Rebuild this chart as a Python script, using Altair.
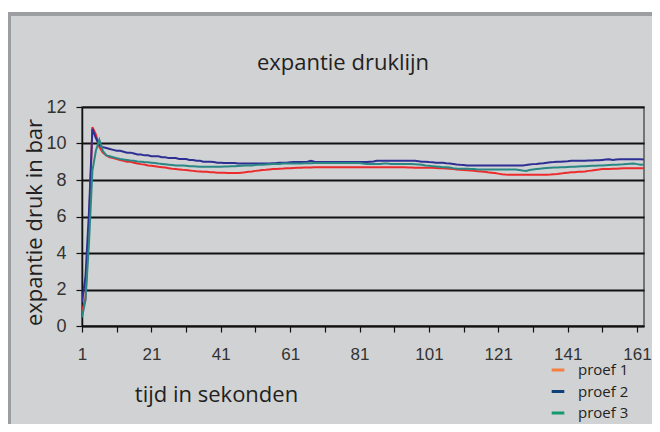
import altair as alt
import pandas as pd

# ---- data ----
series_names = ["proef 1", "proef 2", "proef 3"]
line_colors = ["#ec2b2c", "#2d2f93", "#2a8884"]
legend_colors = ["#f57f3e", "#0f4079", "#159a6b"]

proef1 = [
    0.78, 1.5, 5.5, 10.9, 10.5, 9.8, 9.5, 9.35, 9.25, 9.2,
    9.15, 9.1, 9.05, 9.0, 9.0, 8.95, 8.9, 8.87, 8.85, 8.8,
    8.78, 8.75, 8.72, 8.7, 8.68, 8.65, 8.62, 8.6, 8.58, 8.56,
    8.55, 8.52, 8.5, 8.48, 8.47, 8.45, 8.45, 8.43, 8.42, 8.4,
    8.4, 8.4, 8.38, 8.38, 8.38, 8.38, 8.4, 8.42, 8.45, 8.47,
    8.5, 8.52, 8.55, 8.56, 8.58, 8.6, 8.6, 8.62, 8.63, 8.65,
    8.65, 8.66, 8.67, 8.67, 8.68, 8.68, 8.69, 8.7, 8.7, 8.7,
    8.7, 8.7, 8.7, 8.7, 8.7, 8.7, 8.7, 8.7, 8.7, 8.7,
    8.7, 8.7, 8.7, 8.7, 8.7, 8.7, 8.7, 8.7, 8.7, 8.7,
    8.7, 8.7, 8.7, 8.7, 8.68, 8.68, 8.67, 8.67, 8.67, 8.67,
    8.67, 8.67, 8.66, 8.65, 8.65, 8.63, 8.62, 8.6, 8.58, 8.56,
    8.55, 8.53, 8.52, 8.5, 8.48, 8.47, 8.45, 8.42, 8.4, 8.38,
    8.35, 8.32, 8.3, 8.29, 8.29, 8.29, 8.29, 8.29, 8.29, 8.29,
    8.29, 8.29, 8.29, 8.29, 8.29, 8.3, 8.32, 8.33, 8.35, 8.38,
    8.4, 8.42, 8.43, 8.45, 8.45, 8.47, 8.5, 8.52, 8.55, 8.57,
    8.6, 8.6, 8.6, 8.62, 8.62, 8.63, 8.64, 8.65, 8.65, 8.65,
    8.65, 8.65, 8.65,
]

proef2 = [
    1.3, 2.7, 6.2, 10.8, 10.3, 9.9, 9.8, 9.75, 9.7, 9.65,
    9.6, 9.6, 9.55, 9.5, 9.5, 9.45, 9.4, 9.4, 9.35, 9.35,
    9.3, 9.3, 9.3, 9.25, 9.25, 9.2, 9.2, 9.2, 9.15, 9.15,
    9.15, 9.1, 9.1, 9.05, 9.05, 9.0, 9.0, 9.0, 8.98, 8.95,
    8.95, 8.93, 8.93, 8.93, 8.93, 8.9, 8.9, 8.9, 8.9, 8.9,
    8.9, 8.9, 8.9, 8.9, 8.9, 8.92, 8.93, 8.95, 8.95, 8.95,
    8.97, 8.98, 8.98, 8.98, 8.98, 9.0, 9.05, 9.0, 8.98, 8.98,
    8.98, 8.98, 8.98, 8.98, 8.98, 8.98, 8.98, 8.98, 8.98, 8.98,
    8.98, 8.98, 8.98, 9.0, 9.02, 9.05, 9.05, 9.05, 9.05, 9.05,
    9.05, 9.05, 9.05, 9.05, 9.05, 9.05, 9.05, 9.03, 9.0, 9.0,
    8.98, 8.97, 8.95, 8.95, 8.95, 8.92, 8.9, 8.88, 8.85, 8.83,
    8.82, 8.8, 8.8, 8.8, 8.8, 8.8, 8.8, 8.8, 8.8, 8.8,
    8.8, 8.8, 8.8, 8.8, 8.8, 8.8, 8.8, 8.8, 8.82, 8.85,
    8.87, 8.88, 8.9, 8.92, 8.95, 8.97, 8.98, 9.0, 9.0, 9.02,
    9.03, 9.05, 9.05, 9.05, 9.05, 9.06, 9.07, 9.07, 9.08, 9.08,
    9.1, 9.12, 9.14, 9.1, 9.12, 9.14, 9.14, 9.14, 9.14, 9.14,
    9.14, 9.14, 9.13,
]

proef3 = [
    0.47, 1.4, 4.5, 8.5, 9.6, 10.2, 9.6, 9.35, 9.3, 9.25,
    9.2, 9.15, 9.12, 9.1, 9.07, 9.05, 9.02, 9.0, 8.98, 8.97,
    8.95, 8.93, 8.9, 8.88, 8.86, 8.84, 8.82, 8.8, 8.8, 8.8,
    8.78, 8.76, 8.75, 8.74, 8.73, 8.72, 8.72, 8.72, 8.72, 8.72,
    8.73, 8.74, 8.74, 8.75, 8.76, 8.77, 8.78, 8.8, 8.8, 8.8,
    8.82, 8.83, 8.84, 8.85, 8.86, 8.87, 8.88, 8.88, 8.9, 8.9,
    8.9, 8.9, 8.9, 8.9, 8.92, 8.92, 8.92, 8.93, 8.93, 8.93,
    8.93, 8.93, 8.93, 8.93, 8.93, 8.93, 8.93, 8.93, 8.93, 8.93,
    8.93, 8.9, 8.88, 8.88, 8.87, 8.87, 8.88, 8.9, 8.9, 8.88,
    8.87, 8.87, 8.87, 8.88, 8.88, 8.87, 8.86, 8.85, 8.83, 8.8,
    8.78, 8.76, 8.74, 8.72, 8.7, 8.7, 8.68, 8.65, 8.63, 8.62,
    8.62, 8.61, 8.6, 8.6, 8.58, 8.58, 8.58, 8.58, 8.58, 8.58,
    8.58, 8.58, 8.58, 8.58, 8.58, 8.57, 8.55, 8.52, 8.5, 8.55,
    8.58, 8.6, 8.62, 8.64, 8.66, 8.67, 8.68, 8.69, 8.7, 8.7,
    8.71, 8.72, 8.73, 8.74, 8.75, 8.76, 8.77, 8.78, 8.78, 8.79,
    8.8, 8.81, 8.82, 8.83, 8.84, 8.85, 8.86, 8.88, 8.89, 8.9,
    8.87, 8.83, 8.85,
]

x_tick_values = [1, 11, 21, 31, 41, 51, 61, 71, 81, 91, 101, 111, 121, 131, 141, 151, 161]
y_tick_values = [0, 2, 4, 6, 8, 10, 12]

rows = []
for name, vals in zip(series_names, [proef1, proef2, proef3]):
    for i, v in enumerate(vals):
        rows.append({"t": i + 1, "druk": v, "serie": name})
df = pd.DataFrame(rows)
legend_df = pd.DataFrame({"t": [1, 1, 1], "druk": [0, 0, 0], "legenda": series_names})

W, H = 562, 219
TITLE_FONT = "Open Sans"
TICK_FONT = "Liberation Sans"

x_enc = alt.X(
    "t:Q",
    scale=alt.Scale(domain=[1, 163], nice=False, zero=False),
    axis=alt.Axis(
        values=x_tick_values,
        labelExpr="(datum.value - 1) % 20 == 0 ? datum.label : ''",
        grid=False,
        domainColor="#111111", domainWidth=1.5,
        tickColor="#111111", tickSize=6, tickWidth=1.2,
        labelFont=TICK_FONT, labelFontSize=17, labelColor="#333333",
        labelPadding=14, labelFlush=False, labelOverlap=False,
        title="tijd in sekonden",
        titleFont=TITLE_FONT, titleFontSize=22, titleFontWeight="normal",
        titleColor="#231f20", titleX=134, titleY=58,
    ),
)
y_enc = alt.Y(
    "druk:Q",
    scale=alt.Scale(domain=[0, 12], nice=False),
    axis=alt.Axis(
        values=y_tick_values,
        grid=True, gridColor="#111111", gridWidth=1.8,
        domainColor="#111111", domainWidth=1.5,
        tickColor="#111111", tickSize=6, tickWidth=1.2,
        labelFont=TICK_FONT, labelFontSize=18, labelColor="#333333",
        labelPadding=10, labelOverlap=False,
        title="expantie druk in bar",
        titleFont=TITLE_FONT, titleFontSize=22, titleFontWeight="normal",
        titleColor="#231f20", titleX=-36, titleY=115,
    ),
)

lines = alt.Chart(df).mark_line(strokeWidth=2, clip=True).encode(
    x=x_enc,
    y=y_enc,
    color=alt.Color("serie:N", scale=alt.Scale(domain=series_names, range=line_colors), legend=None),
    detail="serie:N",
)

legend_layer = alt.Chart(legend_df).mark_line(strokeWidth=3).encode(
    x=x_enc,
    y=y_enc,
    color=alt.Color(
        "legenda:N",
        scale=alt.Scale(domain=series_names, range=legend_colors),
        legend=alt.Legend(
            orient="none", legendX=468, legendY=255, title=None,
            labelFont=TITLE_FONT, labelFontSize=15, labelColor="#231f20",
            symbolType="stroke", symbolSize=160, symbolStrokeWidth=3,
            labelOffset=12, rowPadding=5.5, padding=0,
        ),
    ),
)

one = pd.DataFrame({"k": [0]})
frame_white = alt.Chart(one).mark_rect(color="#ffffff").encode(
    x=alt.value(-74), x2=alt.value(W + 12), y=alt.value(-99), y2=alt.value(-95))
frame_top = alt.Chart(one).mark_rect(color="#9d9ea1").encode(
    x=alt.value(-74), x2=alt.value(W + 12), y=alt.value(-95), y2=alt.value(-91))
frame_left = alt.Chart(one).mark_rect(color="#9d9ea1").encode(
    x=alt.value(-74), x2=alt.value(-71), y=alt.value(-95), y2=alt.value(H + 100))

chart = alt.layer(frame_white, frame_top, frame_left, lines, legend_layer).resolve_scale(
    color="independent"
).properties(
    width=W,
    height=H,
    title=alt.Title(
        "expantie druklijn", font=TITLE_FONT, fontSize=22, fontWeight="normal",
        color="#231f20", anchor="middle", frame="group", dx=-20, offset=-89,
        baseline="bottom",
    ),
    autosize=alt.AutoSizeParams(type="none"),
    padding={"left": 74, "top": 99, "right": 8, "bottom": 98},
).configure(
    background="#d1d2d4",
).configure_view(
    stroke="#555555", strokeWidth=1.5, fill=None,
)

chart.save("out.html", embed_options={"renderer": "svg", "actions": False})
